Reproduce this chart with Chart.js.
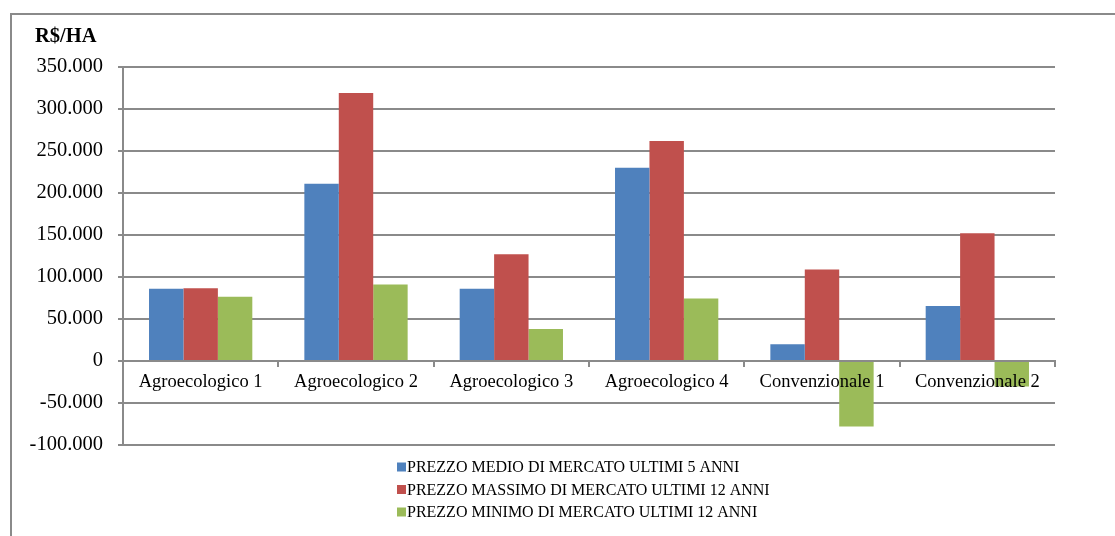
<!DOCTYPE html>
<html lang="it">
<head>
<meta charset="utf-8">
<title>R$/HA – prezzi di mercato</title>
<script src="https://cdn.jsdelivr.net/npm/chart.js@4/dist/chart.umd.min.js"></script>
<style>
  html, body { margin: 0; padding: 0; background: #fff; }
  #wrap { width: 1115px; height: 536px; }
</style>
</head>
<body>
<div id="wrap"><canvas id="chart" width="1115" height="536"></canvas></div>
<script>
// Aziende confrontate
const categories = [
  'Agroecologico 1', 'Agroecologico 2', 'Agroecologico 3',
  'Agroecologico 4', 'Convenzionale 1', 'Convenzionale 2'
];

// Valori in R$/HA
const prezzoMedio5Anni = [86000, 211000, 86000, 230000, 20000, 65500];
const prezzoMassimo12Anni = [86500, 319000, 127000, 262000, 109000, 152000];
const prezzoMinimo12Anni = [76500, 91000, 38000, 74500, -78000, -30500];

const seriesNames = [
  'PREZZO MEDIO DI MERCATO ULTIMI 5 ANNI',
  'PREZZO MASSIMO DI MERCATO ULTIMI 12 ANNI',
  'PREZZO MINIMO DI MERCATO ULTIMI 12 ANNI'
];

const yMin = -100000;
const yMax = 350000;
const yStep = 50000;
const unitTitle = 'R$/HA';

const colors = ['#4F81BD', '#C0504D', '#9BBB59'];
const gridGray = '#8a8a8a';
const serif = '"Liberation Serif", "Times New Roman", serif';

// Migliaia separate dal punto: 350.000, -50.000
function formatThousands(v) {
  const sign = v < 0 ? '-' : '';
  const s = String(Math.abs(Math.round(v)));
  return sign + s.replace(/\B(?=(\d{3})+(?!\d))/g, '.');
}

// Cornice esterna e titolo dell'unità di misura
const framePlugin = {
  id: 'frame',
  beforeDraw(chart) {
    const ctx = chart.ctx;
    ctx.save();
    ctx.fillStyle = '#fff';
    ctx.fillRect(0, 0, chart.width, chart.height);
    ctx.strokeStyle = gridGray;
    ctx.lineWidth = 2;
    ctx.strokeRect(11, 14, chart.width + 20, chart.height + 20);
    ctx.restore();
  },
  afterDraw(chart) {
    const ctx = chart.ctx;
    ctx.save();
    ctx.fillStyle = '#000';
    ctx.font = 'bold 20.5px ' + serif;
    ctx.textBaseline = 'alphabetic';
    ctx.textAlign = 'left';
    ctx.fillText(unitTitle, 35, 42);
    ctx.restore();
  }
};

// Legenda verticale sotto il grafico
const stackedLegend = {
  id: 'stackedLegend',
  afterDraw(chart) {
    const ctx = chart.ctx;
    const x0 = 397;
    const y0 = 467;
    const rowH = 22.5;
    ctx.save();
    ctx.font = '16px ' + serif;
    ctx.textBaseline = 'middle';
    ctx.textAlign = 'left';
    chart.data.datasets.forEach((ds, i) => {
      const y = y0 + i * rowH;
      ctx.fillStyle = ds.backgroundColor;
      ctx.fillRect(x0, y - 4.5, 9, 9);
      ctx.fillStyle = '#000';
      ctx.fillText(ds.label, x0 + 10, y + 1);
    });
    ctx.restore();
  }
};

const data = {
  labels: categories,
  datasets: [
    { label: seriesNames[0], data: prezzoMedio5Anni, backgroundColor: colors[0] },
    { label: seriesNames[1], data: prezzoMassimo12Anni, backgroundColor: colors[1] },
    { label: seriesNames[2], data: prezzoMinimo12Anni, backgroundColor: colors[2] }
  ]
};

Chart.defaults.font.family = serif;
Chart.defaults.color = '#000';

new Chart(document.getElementById('chart'), {
  type: 'bar',
  data,
  options: {
    responsive: false,
    animation: false,
    devicePixelRatio: 1,
    layout: { padding: { left: 12, top: 67, right: 60, bottom: 91 } },
    datasets: {
      bar: { categoryPercentage: 0.665, barPercentage: 1, borderWidth: 0 }
    },
    plugins: {
      legend: { display: false },
      title: { display: false },
      tooltip: { enabled: false }
    },
    scales: {
      x: {
        position: { y: 0 },
        offset: true,
        grid: {
          offset: true,
          drawOnChartArea: false,
          drawTicks: true,
          tickLength: 5,
          color: gridGray,
          lineWidth: 2
        },
        border: { display: true, color: gridGray, width: 2 },
        ticks: {
          z: 1,
          font: { size: 18.5, family: serif },
          color: '#000',
          padding: 5,
          maxRotation: 0,
          autoSkip: false
        }
      },
      y: {
        min: yMin,
        max: yMax,
        afterFit(scale) { scale.width = 111; },
        grid: {
          color: gridGray,
          lineWidth: 2,
          drawTicks: true,
          tickLength: 5
        },
        border: { display: true, color: gridGray, width: 2 },
        ticks: {
          stepSize: yStep,
          font: { size: 20.5, family: serif },
          color: '#000',
          padding: 15,
          callback: (v) => formatThousands(v)
        }
      }
    }
  },
  plugins: [framePlugin, stackedLegend]
});
</script>
</body>
</html>
